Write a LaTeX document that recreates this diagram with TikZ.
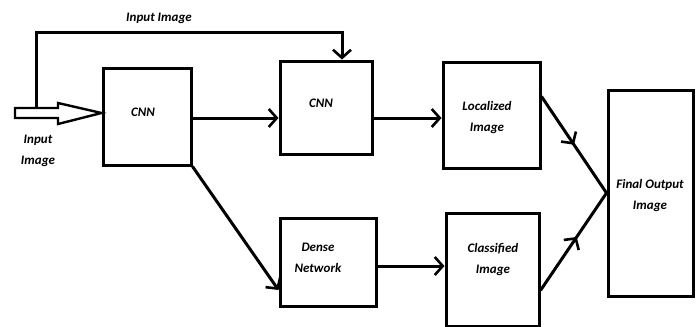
\documentclass[tikz,border=0pt]{standalone}
\usepackage{fontspec}
\setmainfont{Carlito}
\usetikzlibrary{arrows.meta,calc,decorations.markings}
\begin{document}
\begin{tikzpicture}[x=1pt,y=-1pt,
  box/.style={draw,line width=3pt,inner sep=0pt},
  lbl/.style={font=\fontsize{13}{21}\selectfont\bfseries\itshape,align=center,inner sep=0pt},
  arr/.style={line width=3pt,-{Straight Barb[length=8pt,width=18pt,line width=2.6pt]}},
  midarr/.style={line width=3pt,postaction={decorate},
    decoration={markings,mark=at position #1 with {\arrow{Straight Barb[length=8pt,width=18pt,line width=2.6pt]}}}}
]
\useasboundingbox (0,0) rectangle (697,327);
% boxes
\node[box,minimum width=88pt,minimum height=97pt] (cnn1) at (147,116.5) {};
\node[box,minimum width=92pt,minimum height=93pt] (cnn2) at (326,107.5) {};
\node[box,minimum width=97pt,minimum height=106pt] (loc) at (491.5,115) {};
\node[box,minimum width=96pt,minimum height=88pt] (dense) at (328,262) {};
\node[box,minimum width=93pt,minimum height=113pt] (cls) at (492.5,269.5) {};
\node[box,minimum width=85pt,minimum height=206pt] (final) at (650.5,193) {};
% labels
\node[lbl] (cnn1t) at (143,112) {CNN};
\node[lbl] (cnn2t) at (321,103) {CNN};
\node[lbl] (loct) at (487,118) {Localized\\Image};
\node[lbl] (denset) at (318,258) {Dense\\Network};
\node[lbl] (clst) at (493,259.5) {Classified\\Image};
\node[lbl] (finalt) at (650,195.5) {Final Output\\Image};
\node[lbl] (topt) at (159,18) {Input Image};
\node[lbl] (int) at (38,151) {Input\\Image};
% hollow input arrow
\coordinate (split) at (36,108);
\coordinate (corner) at (36,32);
\coordinate (cn2top) at ($(cnn2.north)+(16,0)$);
\draw[line width=2.4pt,fill=white] (15,108) -- (58,108) -- (58,103) -- (cnn1.west |- 0,113) -- (58,124) -- (58,118) -- (15,118) -- cycle;
% top bypass line
\draw[arr] (split) -- (corner) -- (cn2top |- corner) -- (cn2top);
% connectors
\draw[arr] (cnn1.east |- 0,118) -- (cnn2.west |- 0,118);
\draw[arr] (cnn2.east |- 0,118) -- (loc.west |- 0,118);
\draw[arr] (dense.east |- 0,266) -- (cls.west |- 0,266);
\draw[arr] (cnn1.south east) -- (dense.west |- 0,290);
\draw[midarr=0.5] ($(loc.north east)!0.33!(loc.south east)$) -- (final.west);
\draw[midarr=0.55] ($(cls.north east)!0.68!(cls.south east)$) -- (final.west);
\end{tikzpicture}
\end{document}
